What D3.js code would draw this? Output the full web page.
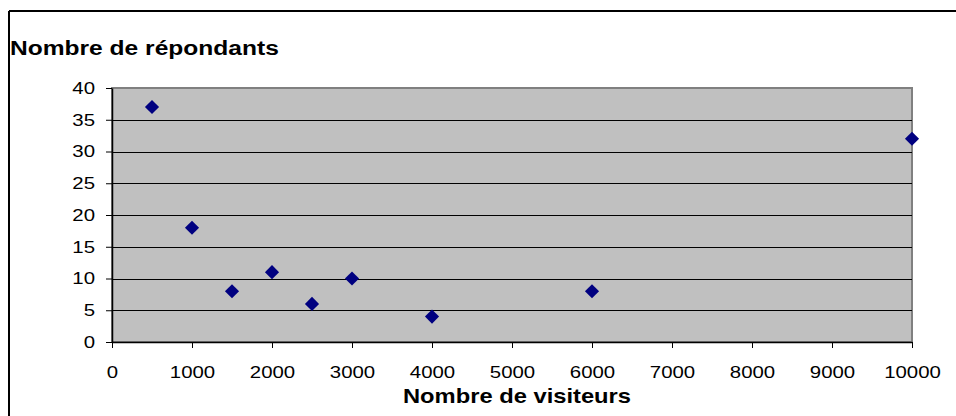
<!DOCTYPE html>
<html>
<head>
<meta charset="utf-8">
<script src="https://cdn.jsdelivr.net/npm/d3@7"></script>
<style>
  html, body { margin: 0; padding: 0; background: #fff; }
  svg { display: block; }
  text { font-family: "Liberation Sans", Arial, sans-serif; fill: #000; }
  .stretch-mid { transform-box: fill-box; transform-origin: center; transform: scaleX(1.2); }
  .stretch-end { transform-box: fill-box; transform-origin: right center; transform: scaleX(1.2); }
  .stretch-start { transform-box: fill-box; transform-origin: left center; transform: scaleX(1.17); }
  .stretch-title { transform-box: fill-box; transform-origin: center; transform: scaleX(1.13); }
</style>
</head>
<body>
<script>
const visitors = [500, 1000, 1500, 2000, 2500, 3000, 4000, 6000, 10000];
const respondents = [37, 18, 8, 11, 6, 10, 4, 8, 32];
const xTicks = [0, 1000, 2000, 3000, 4000, 5000, 6000, 7000, 8000, 9000, 10000];
const yTicks = [0, 5, 10, 15, 20, 25, 30, 35, 40];
const yTitle = "Nombre de répondants";
const xTitle = "Nombre de visiteurs";

const W = 956, H = 416;
const plot = { left: 112, right: 912, top: 88, bottom: 342 };

const svg = d3.select("body").append("svg").attr("width", W).attr("height", H);

const x = d3.scaleLinear().domain([0, 10000]).range([plot.left, plot.right]);
const y = d3.scaleLinear().domain([0, 40]).range([plot.bottom, plot.top]);

// outer frame (top and left edges)
svg.append("line").attr("x1", 9).attr("x2", W).attr("y1", 11).attr("y2", 11)
  .attr("stroke", "#000").attr("stroke-width", 2);
svg.append("line").attr("x1", 9).attr("x2", 9).attr("y1", 11).attr("y2", H)
  .attr("stroke", "#000").attr("stroke-width", 2);

// plot area
svg.append("rect")
  .attr("x", plot.left).attr("y", plot.top)
  .attr("width", plot.right - plot.left).attr("height", plot.bottom - plot.top)
  .attr("fill", "#c0c0c0").attr("stroke", "#808080").attr("stroke-width", 2);

// gridlines
svg.append("g").selectAll("line")
  .data(yTicks.filter(v => v > 0 && v < 40))
  .join("line")
  .attr("x1", plot.left).attr("x2", plot.right)
  .attr("y1", d => Math.round(y(d)) + 0.5).attr("y2", d => Math.round(y(d)) + 0.5)
  .attr("stroke", "#000").attr("stroke-width", 1);

// y axis
const yAxis = svg.append("g")
  .attr("transform", `translate(${plot.left},0)`)
  .call(d3.axisLeft(y).tickValues(yTicks).tickFormat(d3.format("d"))
    .tickSize(6).tickPadding(11).tickSizeOuter(0));
yAxis.select(".domain").attr("stroke", "#000").attr("stroke-width", 1.5);
yAxis.selectAll(".tick line").attr("stroke", "#000");
yAxis.selectAll(".tick text")
  .attr("font-size", 17).attr("font-family", "Liberation Sans, Arial, sans-serif")
  .attr("fill", "#000").attr("class", "stretch-end");

// x axis
const xAxis = svg.append("g")
  .attr("transform", `translate(0,${plot.bottom})`)
  .call(d3.axisBottom(x).tickValues(xTicks).tickFormat(d3.format("d"))
    .tickSize(6).tickPadding(18).tickSizeOuter(0));
xAxis.select(".domain").attr("stroke", "#000").attr("stroke-width", 1.5);
xAxis.selectAll(".tick line").attr("stroke", "#000");
xAxis.selectAll(".tick text")
  .attr("font-size", 17).attr("font-family", "Liberation Sans, Arial, sans-serif")
  .attr("fill", "#000").attr("class", "stretch-mid");

// markers (diamonds)
const diamond = d3.symbol().type(d3.symbolSquare).size(100);
svg.append("g").selectAll("path")
  .data(visitors.map((v, i) => ({ v, r: respondents[i] })))
  .join("path")
  .attr("d", diamond)
  .attr("transform", d => `translate(${x(d.v)},${y(d.r)}) rotate(45)`)
  .attr("fill", "#000080");

// titles
svg.append("text")
  .attr("x", 10).attr("y", 55)
  .attr("font-size", 21).attr("font-weight", "bold")
  .attr("class", "stretch-start")
  .text(yTitle);

svg.append("text")
  .attr("x", 517).attr("y", 403)
  .attr("text-anchor", "middle")
  .attr("font-size", 21).attr("font-weight", "bold")
  .attr("class", "stretch-title")
  .text(xTitle);
</script>
</body>
</html>
